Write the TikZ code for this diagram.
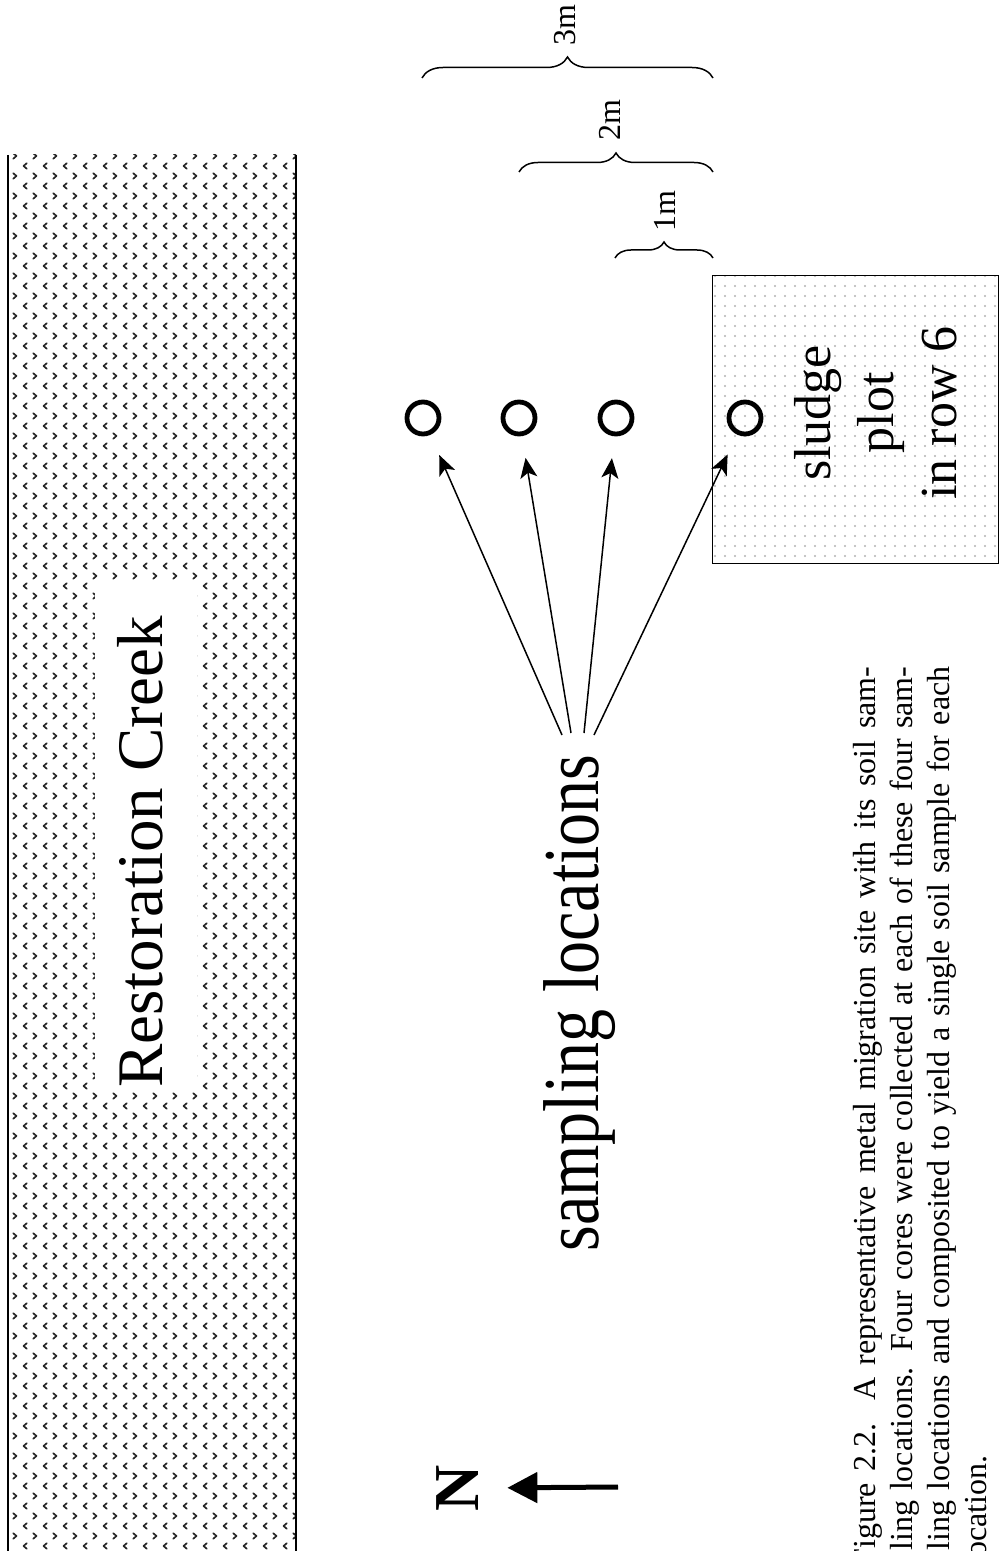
\documentclass[tikz,border=0pt]{standalone}
\usepackage{fontspec}
\newfontfamily\tnr{Liberation Serif}
\usetikzlibrary{patterns,decorations.pathreplacing,arrows.meta}

\pgfdeclarepatternformonly{chevrons}{\pgfpoint{-1pt}{-1pt}}{\pgfpoint{11pt}{11pt}}{\pgfpoint{10pt}{10pt}}{%
  \pgfsetlinewidth{0.85pt}%
  \pgfsetroundcap\pgfsetroundjoin
  \pgfpathmoveto{\pgfpoint{3.4pt}{3.9pt}}\pgfpathlineto{\pgfpoint{1.8pt}{2.5pt}}\pgfpathlineto{\pgfpoint{3.4pt}{1.1pt}}%
  \pgfpathmoveto{\pgfpoint{6.6pt}{8.9pt}}\pgfpathlineto{\pgfpoint{8.2pt}{7.5pt}}\pgfpathlineto{\pgfpoint{6.6pt}{6.1pt}}%
  \pgfusepath{stroke}}

\pgfdeclarepatternformonly{sdots}{\pgfpoint{-1pt}{-1pt}}{\pgfpoint{6pt}{6pt}}{\pgfpoint{5pt}{5pt}}{%
  \pgfpathcircle{\pgfpoint{2.5pt}{2.5pt}}{0.6pt}\pgfusepath{fill}}

\begin{document}
\begin{tikzpicture}[x=0.5pt,y=-0.5pt,
  loc/.style={circle, draw, line width=2.4pt, minimum size=16pt, inner sep=0pt},
  arr/.style={-{Stealth[length=10pt,width=8.5pt,inset=2.5pt]}, line width=0.75pt, shorten >=11pt},
  brc/.style={decorate, line width=0.75pt},
  lbl/.style={rotate=90, anchor=base, inner sep=0pt, font=\tnr\fontsize{16}{19}\selectfont}]
\useasboundingbox (0,0) rectangle (1002,1551);
\fill[white] (0,0) rectangle (1002,1551);

% creek
\fill[pattern=chevrons, pattern color=black!85] (8,155) rectangle (296,1551);
\draw[line width=1.1pt] (8,155) -- (8,1551);
\draw[line width=1.1pt] (296,155) -- (296,1551);
\fill[white] (95,580) rectangle (197,1092);
\node[rotate=90, anchor=base, inner sep=0pt, font=\tnr\fontsize{32.5}{39}\selectfont] (creek) at (162,852) {Restoration Creek};

% sludge plot
\node[draw, line width=0.7pt, pattern=sdots, pattern color=black!30, minimum width=143pt, minimum height=144pt, inner sep=0pt, anchor=north west] (plotbox) at (712,275) {};
\node[rotate=90, align=center, inner sep=0pt, font=\tnr\fontsize{26}{31.5}\selectfont] (sludge) at (876,413) {sludge\\plot\\in row 6};

% sampling locations
\node[loc] (c1) at (423,418) {};
\node[loc] (c2) at (519,418) {};
\node[loc] (c3) at (616,418) {};
\node[loc] (c4) at (745,418) {};
\node[rotate=90, anchor=base, inner sep=0pt, font=\tnr\fontsize{33}{40}\selectfont] (samp) at (598,1003) {\scalebox{1}[1.2]{sampling locations}};
\coordinate (s1) at (562,735);
\coordinate (s2) at (571,733);
\coordinate (s3) at (584,733);
\coordinate (s4) at (594,735);
\draw[arr] (s1) -- (c1);
\draw[arr] (s2) -- (c2);
\draw[arr] (s3) -- (c3);
\draw[arr] (s4) -- (c4);

% braces
\coordinate (b3a) at (422,78); \coordinate (b3b) at (713,78);
\coordinate (b2a) at (519,172); \coordinate (b2b) at (713,172);
\coordinate (b1a) at (615,258); \coordinate (b1b) at (713,258);
\draw[brc, decoration={brace, amplitude=10.5pt}] (b3a) -- (b3b);
\draw[brc, decoration={brace, amplitude=9.5pt}] (b2a) -- (b2b);
\draw[brc, decoration={brace, amplitude=8pt}] (b1a) -- (b1b);
\node[lbl] (l3) at (575,25) {3m};
\node[lbl] (l2) at (620,120) {2m};
\node[lbl] (l1) at (675,211) {1m};

% north arrow
\node[rotate=90, inner sep=0pt, font=\tnr\bfseries\fontsize{32}{38}\selectfont] (N) at (458,1488) {N};
\coordinate (na) at (618,1487);
\draw[line width=2.5pt, -{Triangle[length=15pt,width=15pt]}, shorten >=14pt] (na) -- (N.south);

% caption
\begin{scope}
\clip (0,0) rectangle (1002,1551);
\node[rotate=90, anchor=base west, inner sep=0pt, font=\tnr\fontsize{16}{18.5}\selectfont] (cap) at (875,1567) {\parbox[t]{450pt}{Figure 2.2. A representative metal migration site with its soil sam-\linebreak pling locations. Four cores were collected at each of these four sam-\linebreak pling locations and composited to yield a single soil sample for each\linebreak location.}};
\end{scope}
\end{tikzpicture}
\end{document}
